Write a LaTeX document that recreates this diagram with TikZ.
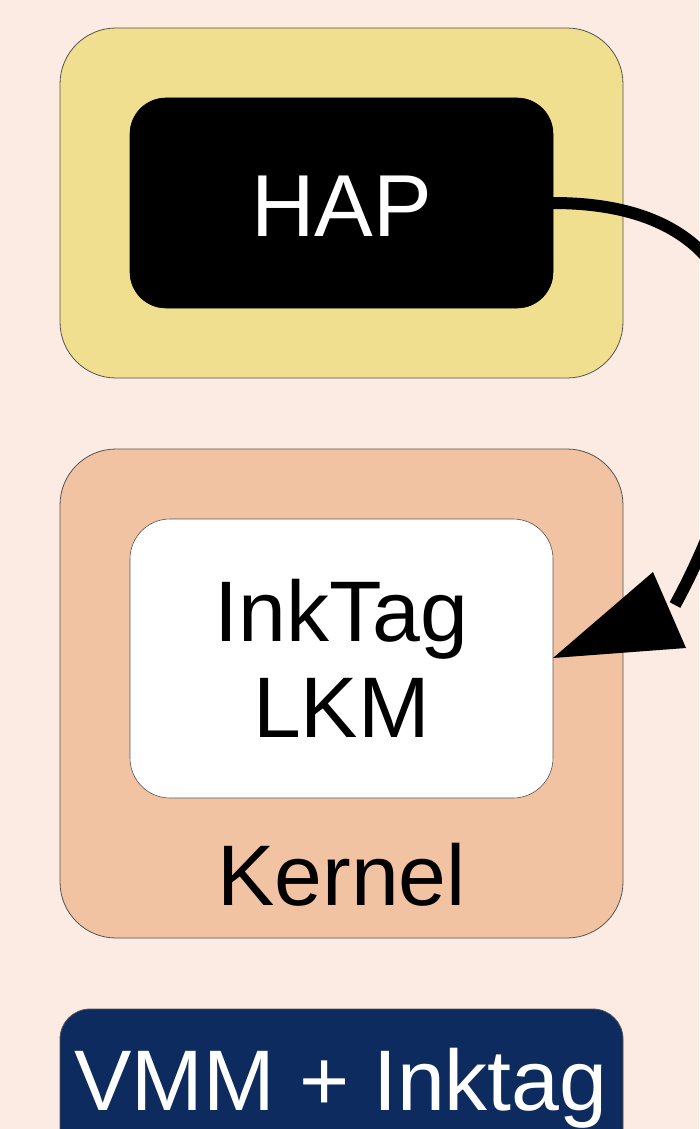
\documentclass[tikz,border=0pt]{standalone}
\usepackage{fontspec}
\setmainfont{Liberation Sans}
\definecolor{bgpeach}{HTML}{FBEBE2}
\definecolor{userfill}{HTML}{F0DF8E}
\definecolor{kernfill}{HTML}{F1C3A2}
\definecolor{vmmfill}{HTML}{0D2B5E}
\definecolor{edge}{HTML}{555555}
\begin{document}
\begin{tikzpicture}[x=1pt,y=-1pt,
  layer/.style={draw=edge,line width=0.8pt,rounded corners=56pt},
  inner/.style={draw=edge,line width=0.6pt,rounded corners=36pt},
  label/.style={inner sep=0pt,anchor=base,font=\fontsize{86}{96}\selectfont}]
  % canvas
  \fill[bgpeach] (0,0) rectangle (699,1129);
  \useasboundingbox (0,0) rectangle (699,1129);

  % user layer with the HAP
  \draw[layer,fill=userfill] (60,28) rectangle (623,378);
  \draw[inner,fill=black,draw=black] (130,98) rectangle (553,308);
  \coordinate (hap) at (553,203);
  \node[label,text=white,font=\fontsize{88}{96}\selectfont] (haptext) at (341.5,236) {HAP};

  % kernel layer with the loadable module
  \draw[layer,fill=kernfill] (60,449) rectangle (623,938);
  \draw[inner,fill=white,rounded corners=40pt] (130,519) rectangle (553,798);
  \coordinate (lkm) at (553,658);
  \node[label] (inktag) at (341.5,641) {InkTag};
  \node[label] (lkmtext) at (341.5,737) {LKM};
  \node[label] (kernel) at (341.5,905) {Kernel};

  % hypervisor layer
  \draw[draw=edge,line width=0.8pt,fill=vmmfill,rounded corners=30pt]
    (60,1009) -- (623,1009) -- (623,1160) -- (60,1160) -- cycle;
  \node[label,text=white] (vmm) at (341,1110) {VMM + Inktag};

  % call from the HAP down into the module
  \coordinate (bend) at (675,605);
  \draw[line width=12pt] (hap) .. controls (800,203) and (770,430) .. (bend);
  \fill[black] (lkm) -- (653,572) -- (686,648) -- cycle;
\end{tikzpicture}
\end{document}
